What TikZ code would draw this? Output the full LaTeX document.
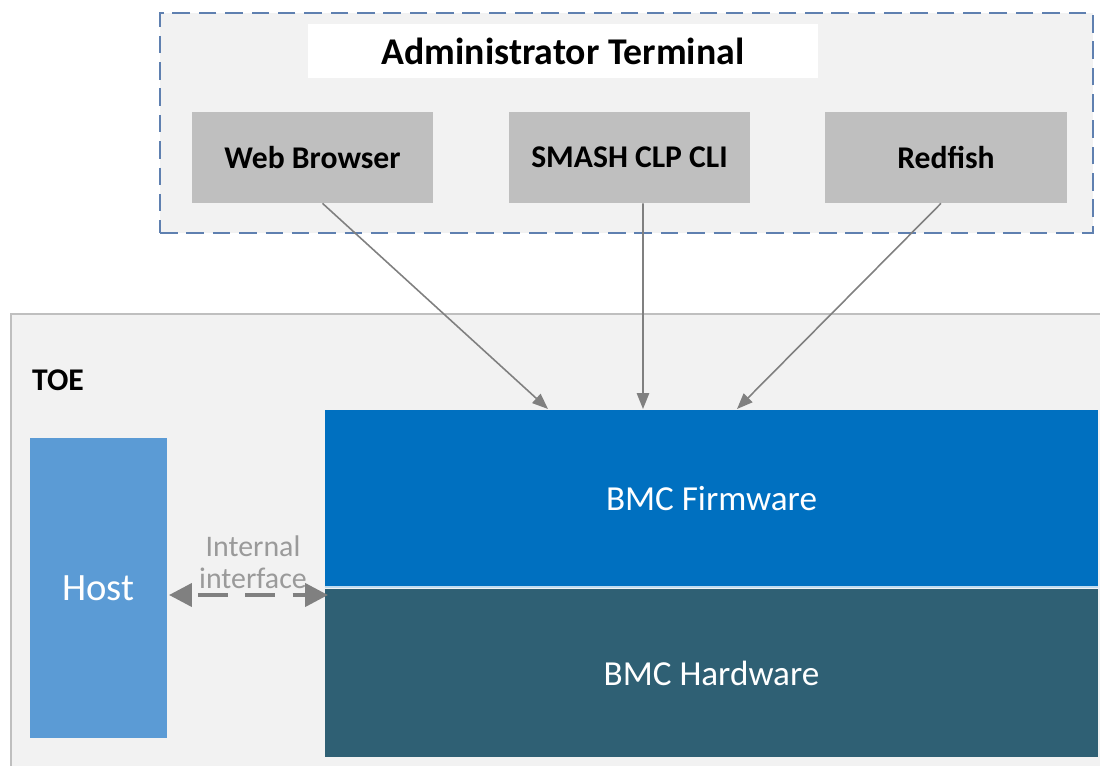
\documentclass[tikz,border=0pt]{standalone}
\usepackage{fontspec}
\setmainfont{Carlito}
\usetikzlibrary{arrows.meta}
\definecolor{panel}{HTML}{F2F2F2}
\definecolor{dashblue}{HTML}{5F80B0}
\definecolor{toeline}{HTML}{BFBFBF}
\definecolor{toolgray}{HTML}{BFBFBF}
\definecolor{arrowgray}{HTML}{808080}
\definecolor{hostblue}{HTML}{5B9BD5}
\definecolor{fwblue}{HTML}{0070C0}
\definecolor{hwteal}{HTML}{2F6074}
\tikzset{
  tool/.style={fill=toolgray, minimum width=4.84cm, minimum height=1.82cm, font=\fontsize{18}{20}\selectfont\bfseries},
  layer/.style={minimum width=15.46cm, text=white, font=\fontsize{20}{24}\selectfont},
  link/.style={draw=arrowgray, line width=0.9pt, -{Triangle[length=9pt, width=7pt]}},
}
\begin{document}
\begin{tikzpicture}[x=0.02cm, y=-0.02cm]
\useasboundingbox (0,0) rectangle (1100,765);
\node[draw=toeline, fill=panel, line width=1pt, minimum width=22.2cm, minimum height=9.4cm, anchor=north west] (toe) at (10,313) {};
\node[draw=dashblue, fill=panel, dashed, dash pattern=on 10pt off 5pt, line width=1.6pt, minimum width=18.66cm, minimum height=4.4cm] (admin) at (626.5,123) {};
\node[fill=white, minimum width=10.2cm, minimum height=1.08cm, font=\fontsize{21.5}{24}\selectfont\bfseries] (title) at (563,51) {Administrator Terminal};

\node[tool] (web) at (312.5,157.5) {Web Browser};
\node[tool] (smash) at (629.5,157.5) {SMASH CLP CLI};
\node[tool] (redfish) at (946,157.5) {Redfish};

\node[font=\fontsize{18}{20}\selectfont\bfseries, anchor=west] (toelabel) at (26,380) {TOE};
\node[fill=hostblue, minimum width=2.74cm, minimum height=6cm, text=white, font=\fontsize{22}{24}\selectfont] (host) at (98.5,588) {Host};
\node[layer, fill=fwblue, minimum height=3.54cm] (bmcfw) at (711.5,498.5) {BMC Firmware};
\node[layer, fill=hwteal, minimum height=3.36cm] (bmchw) at (711.5,673) {BMC Hardware};
\draw[white!75!fwblue, line width=1pt] (bmcfw.south west) -- (bmcfw.south east);

\coordinate (inweb) at (548,409);
\coordinate (insmash) at (643,409);
\coordinate (inred) at (737,409);
\draw[link] ([xshift=0.2cm]web.south) -- (inweb);
\draw[link] ([xshift=0.27cm]smash.south) -- (insmash);
\draw[link] ([xshift=-0.1cm]redfish.south) -- (inred);

\coordinate (ifhost) at (169,595);
\coordinate (ifbmc) at (328,595);
\draw[arrowgray, line width=2.4pt, dash pattern=on 17pt off 10pt, dash phase=-4pt, {Triangle[length=13pt, width=13pt]}-{Triangle[length=13pt, width=13pt]}] (ifhost) -- (ifbmc);
\node[text=arrowgray!80, align=center, font=\fontsize{17}{18}\selectfont] (iflabel) at (253,562) {Internal\\interface};
\end{tikzpicture}
\end{document}
